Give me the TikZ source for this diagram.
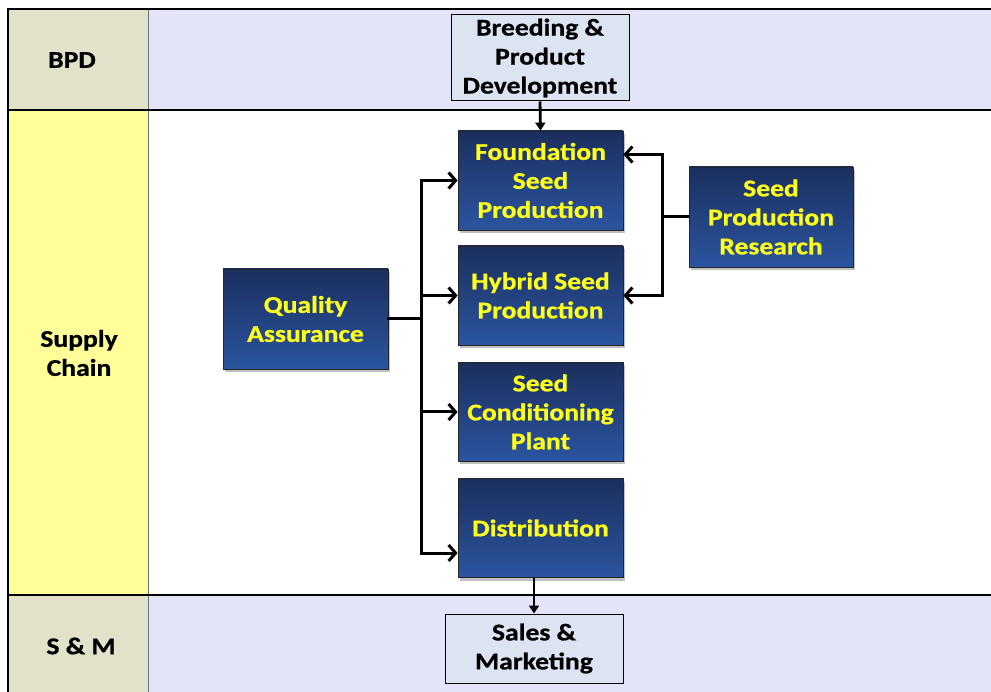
\documentclass[tikz,border=0pt]{standalone}
\usepackage{fontspec}
\setmainfont{Carlito}[FakeStretch=1.15, BoldFeatures={FakeBold=0.8}]
\usetikzlibrary{shadows,arrows.meta}
\definecolor{lanetan}{HTML}{E2E2CB}
\definecolor{laneyellow}{HTML}{FFFF99}
\definecolor{lanelav}{HTML}{E4E4F8}
\definecolor{lightbox}{HTML}{DCE3F1}
\definecolor{bluetop}{HTML}{1B2F5E}
\definecolor{bluebot}{HTML}{2B55A0}
\definecolor{ytext}{HTML}{FFFF1A}
\begin{document}
\begin{tikzpicture}[x=1pt,y=-1pt,
  proc/.style={draw=black!85, line width=0.8pt, top color=bluetop, bottom color=bluebot,
    text=ytext, font=\bfseries\fontsize{24}{29}\selectfont, align=center,
    minimum width=165pt, minimum height=99pt, inner sep=0pt,
    drop shadow={shadow xshift=2pt, shadow yshift=-3pt, opacity=0.35, fill=black!70}},
  light/.style={draw=black, line width=1pt, fill=lightbox, text=black,
    font=\bfseries\fontsize{24}{29}\selectfont, align=center, inner sep=0pt},
  lanelabel/.style={font=\bfseries\fontsize{24}{29}\selectfont, align=center, text=black},
  conn/.style={line width=3pt, line cap=rect},
  arr/.style={line width=3pt, -{Straight Barb[length=7pt,width=16pt,line width=3pt]}},
  varr/.style={line width=2.8pt, -{Triangle[length=8pt,width=10pt]}}]
\useasboundingbox (0,0) rectangle (991,692);
\clip (0,0) rectangle (991,692);
% lanes
\fill[lanetan] (8,9) rectangle (148,110);
\fill[laneyellow] (8,110) rectangle (148,595);
\fill[lanetan] (8,595) rectangle (148,700);
\fill[lanelav] (148,9) rectangle (1000,110);
\fill[white] (148,110) rectangle (1000,595);
\fill[lanelav] (148,595) rectangle (1000,700);
\draw[black!55, line width=1pt] (148,9) -- (148,700);
\draw[black, line width=2.2pt] (1000,9) -- (8,9) -- (8,700);
\draw[black, line width=2.2pt] (8,110) -- (1000,110);
\draw[black, line width=2.2pt] (8,595) -- (1000,595);
\node[lanelabel] (lbpd) at (72,60) {BPD};
\node[lanelabel] (lsc) at (79,353) {Supply\\Chain};
\node[lanelabel] (lsm) at (81,646) {S \& M};
% boxes
\node[light, minimum width=178pt, minimum height=86pt] (B) at (540,58) {Breeding \&\\Product\\Development};
\node[proc] (F) at (540.5,180.5) {Foundation\\Seed\\Production};
\node[proc] (H) at (540.5,295.5) {Hybrid Seed\\Production};
\node[proc] (C) at (540.5,412) {Seed\\Conditioning\\Plant};
\node[proc] (D) at (540.5,528) {Distribution};
\node[proc, minimum width=164pt, minimum height=100pt] (R) at (771,217) {Seed\\Production\\Research};
\node[proc, minimum width=165pt, minimum height=100pt] (Q) at (305.5,319) {Quality\\Assurance};
\node[light, minimum width=178pt, minimum height=69pt] (S) at (534,648.5) {Sales \&\\Marketing};
% connectors
\coordinate (bus) at (421,0);
\coordinate (brk) at (662,0);
\draw[varr] (B.south) -- (F.north);
\draw[varr] (D.south -| S.north) -- (S.north);
\coordinate (Dl) at ([yshift=-25pt]D.west);
\coordinate (Fr) at ([yshift=26pt]F.east);
\draw[conn] (Q.east) -- (Q.east -| bus);
\draw[conn] (F.west -| bus) -- (Dl -| bus);
\draw[arr] (F.west -| bus) -- (F.west);
\draw[arr] (H.west -| bus) -- (H.west);
\draw[arr] (C.west -| bus) -- (C.west);
\draw[arr] (Dl -| bus) -- (Dl);
\draw[conn] (R.west) -- (R.west -| brk);
\draw[arr] (brk |- R.west) |- (Fr);
\draw[arr] (brk |- R.west) |- (H.east);
\end{tikzpicture}
\end{document}
